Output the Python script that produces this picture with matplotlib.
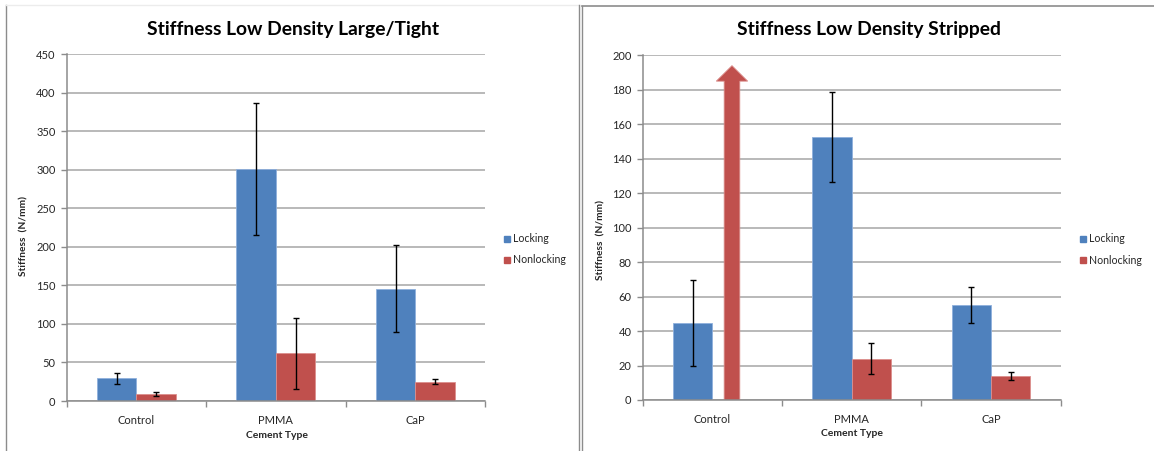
import matplotlib
matplotlib.use("Agg")
import matplotlib.pyplot as plt
from matplotlib.lines import Line2D
from matplotlib.patches import FancyArrow
import numpy as np

plt.rcParams['font.family'] = ['Lato', 'DejaVu Sans']

# ---------------- data ----------------
categories = ["Control", "PMMA", "CaP"]
series_names = ["Locking", "Nonlocking"]

left_title = "Stiffness Low Density Large/Tight"
left_locking = [29.5, 301, 146]
left_locking_err = [7, 86, 56]
left_nonlocking = [9, 62, 25]
left_nonlocking_err = [3, 46, 3.5]
left_yticks = [0, 50, 100, 150, 200, 250, 300, 350, 400, 450]

right_title = "Stiffness Low Density Stripped"
right_locking = [44.5, 152.5, 55]
right_locking_err = [25, 26.3, 10.5]
right_nonlocking = [None, 24, 14]       # Control nonlocking is off-scale (drawn as arrow)
right_nonlocking_err = [None, 9, 2.5]
right_arrow_top = 194                    # top of the off-scale arrow
right_yticks = [0, 20, 40, 60, 80, 100, 120, 140, 160, 180, 200]

xlabel = "Cement Type"
ylabel = "Stiffness  (N/mm)"

# ---------------- style ----------------
W, H = 1154, 451
BLUE = "#4F81BD"
RED = "#C0504D"
GRID = "#a6a6a6"
AX = "#8c8c8c"
TXT = "#262626"
BW = 0.283

fig = plt.figure(figsize=(W / 100, H / 100), dpi=100)
fig.patch.set_facecolor("white")


def px_axes(x0, y_top, x1, y_bot):
    return fig.add_axes([x0 / W, 1 - y_bot / H, (x1 - x0) / W, (y_bot - y_top) / H])


def style_axes(ax, yticks):
    ax.set_xlim(-0.5, len(categories) - 0.5)
    ax.set_ylim(yticks[0], yticks[-1])
    ax.set_yticks(yticks)
    ax.set_yticklabels([str(t) for t in yticks])
    # category labels in the middle, tick marks at boundaries
    ax.set_xticks(np.arange(len(categories)))
    ax.set_xticklabels(categories)
    ax.set_xticks(np.arange(len(categories) + 1) - 0.5, minor=True)
    ax.tick_params(axis="x", which="major", length=0, pad=10, labelsize=8, colors=TXT)
    ax.tick_params(axis="x", which="minor", length=4, width=1, color=AX, direction="out")
    ax.tick_params(axis="y", length=4, width=1, color=AX, pad=4, labelsize=8, colors=TXT)
    ax.yaxis.grid(True, color=GRID, linewidth=1.1)
    ax.set_axisbelow(True)
    for s in ["top", "right"]:
        ax.spines[s].set_visible(False)
    for s in ["left", "bottom"]:
        ax.spines[s].set_color(AX)
        ax.spines[s].set_linewidth(1.1)
    ax.spines["bottom"].set_zorder(3)


def draw_bars(ax, loc, loc_err, nonloc, nonloc_err):
    x = np.arange(len(categories))
    ekw = dict(ecolor="black", elinewidth=1, capsize=2.5, capthick=1)
    ax.bar(x - BW / 2, loc, BW, color=BLUE, edgecolor="#8fb0dc", linewidth=0.6,
           yerr=loc_err, error_kw=ekw, zorder=2)
    xs = [xi + BW / 2 for xi, v in zip(x, nonloc) if v is not None]
    vs = [v for v in nonloc if v is not None]
    es = [e for v, e in zip(nonloc, nonloc_err) if v is not None]
    ax.bar(xs, vs, BW, color=RED, edgecolor="#dc8f8d", linewidth=0.6,
           yerr=es, error_kw=ekw, zorder=2)


def add_legend(x_marker, y1, y2):
    for name, col, y in zip(series_names, [BLUE, RED], [y1, y2]):
        fig.add_artist(Line2D([x_marker / W], [1 - y / H], marker="s", markersize=4.6,
                              color=col, linestyle="none"))
        fig.text((x_marker + 6) / W, 1 - y / H, name, fontsize=7.6, color=TXT,
                 va="center", ha="left")


# ---------------- left chart ----------------
axL = px_axes(66.7, 54.3, 485, 401)
style_axes(axL, left_yticks)
draw_bars(axL, left_locking, left_locking_err, left_nonlocking, left_nonlocking_err)
fig.text(293 / W, 1 - 29 / H, left_title, fontsize=13.9, fontweight="bold",
         ha="center", va="center", color="black")
fig.text(24 / W, 1 - 236 / H, ylabel, rotation=90, fontsize=7.3, fontweight="bold",
         ha="center", va="center", color=TXT)
fig.text(276.7 / W, 1 - 435 / H, xlabel, fontsize=7.5, fontweight="bold",
         ha="center", va="center", color=TXT)
add_legend(507, 238.5, 259.5)

# ---------------- right chart ----------------
axR = px_axes(642.6, 55.3, 1060.6, 400)
style_axes(axR, right_yticks)
draw_bars(axR, right_locking, right_locking_err, right_nonlocking, right_nonlocking_err)
head_len = 9.0
arrow = FancyArrow(0 + BW / 2, -0.5, 0, right_arrow_top + 0.5, width=0.112,
                   head_width=0.225, head_length=head_len, length_includes_head=True,
                   facecolor=RED, edgecolor="#d98a88", linewidth=0.6, zorder=3)
axR.add_patch(arrow)
fig.text(868.5 / W, 1 - 30 / H, right_title, fontsize=13.9, fontweight="bold",
         ha="center", va="center", color="black")
fig.text(600.7 / W, 1 - 240 / H, ylabel, rotation=90, fontsize=7.3, fontweight="bold",
         ha="center", va="center", color=TXT)
fig.text(852 / W, 1 - 433 / H, xlabel, fontsize=7.5, fontweight="bold",
         ha="center", va="center", color=TXT)
add_legend(1083, 239, 260)

# ---------------- panel borders ----------------
def fline(x0, y0, x1, y1, color, lw=1.0):
    fig.add_artist(Line2D([x0 / W, x1 / W], [1 - y0 / H, 1 - y1 / H], color=color,
                          linewidth=lw))

fline(6, 5, 6, 451, "#8c8c8c")
fline(6, 5, 579, 5, "#ececec")
fline(579.3, 5, 579.3, 451, "#8c8c8c")
fline(581.8, 6, 581.8, 451, "#8c8c8c")
fline(581.8, 6, 1154, 6, "#8c8c8c", 1.2)

fig.savefig("out.png", dpi=100, facecolor="white")
